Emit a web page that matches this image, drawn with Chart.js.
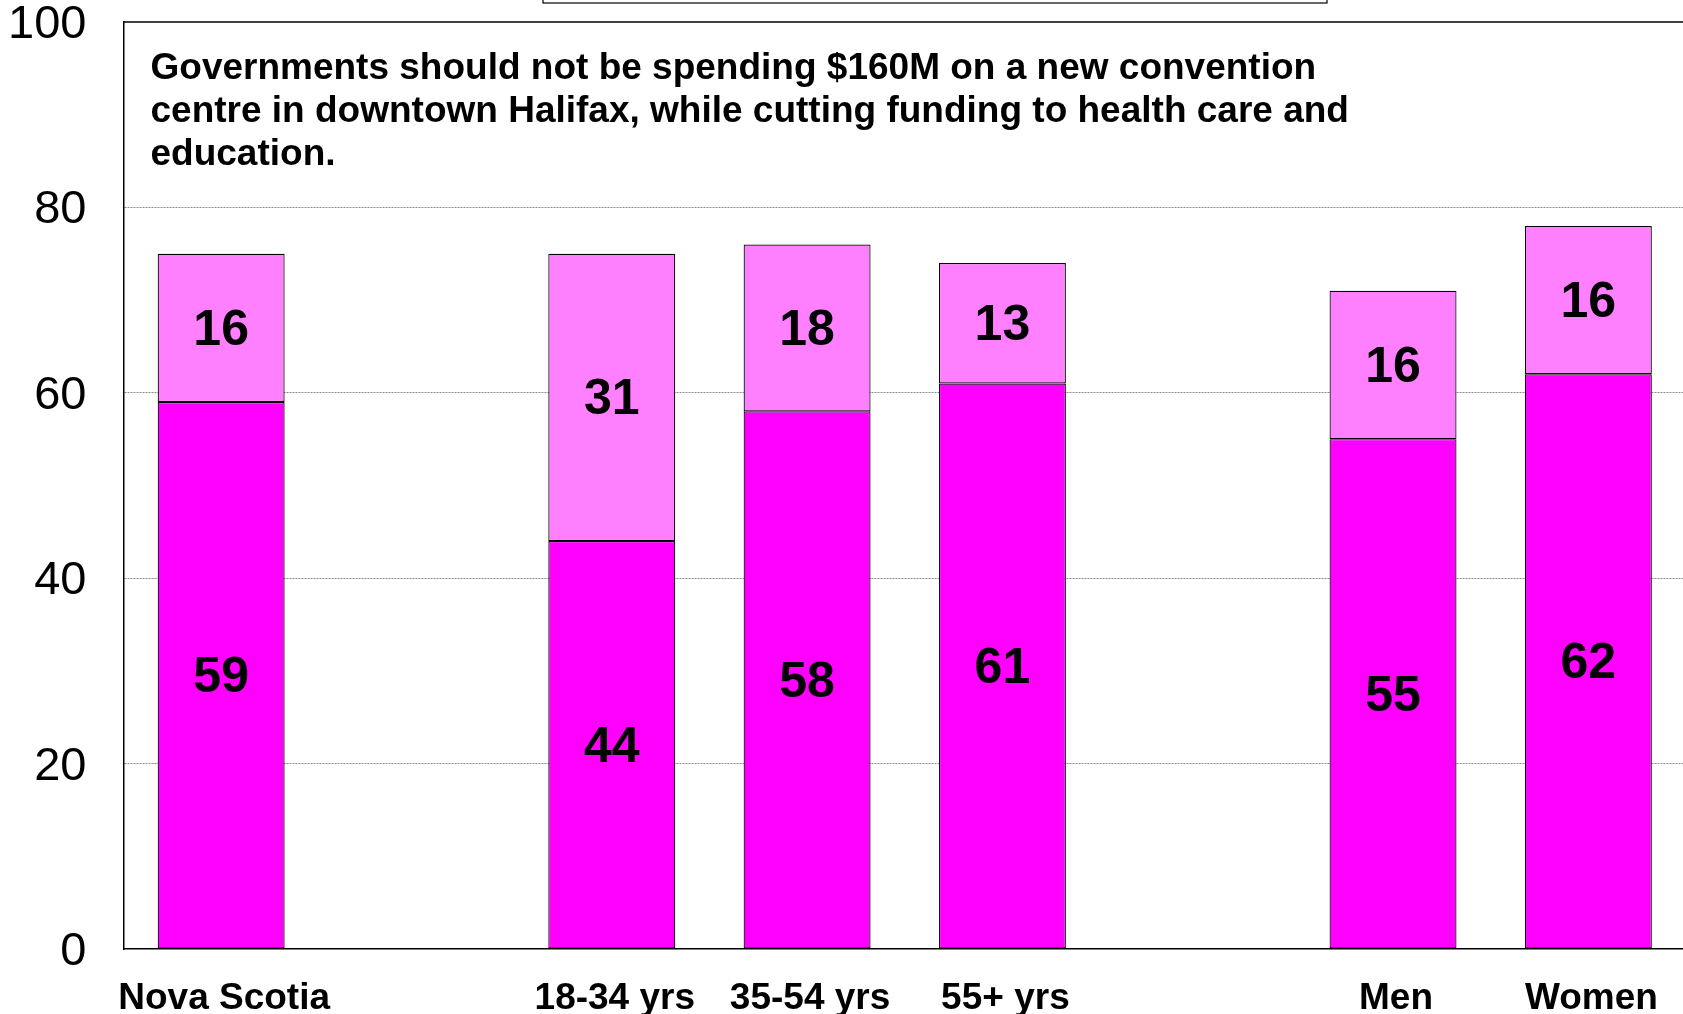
<!DOCTYPE html>
<html>
<head>
<meta charset="utf-8">
<script src="https://cdn.jsdelivr.net/npm/chart.js@4/dist/chart.umd.min.js"></script>
<style>
  html, body { margin: 0; padding: 0; background: #fff; overflow: hidden; }
  canvas { display: block; }
</style>
</head>
<body>
<canvas id="chart" width="1686" height="1014"></canvas>
<script>
// groups are separated by empty slots on the category axis
const categories = ['Nova Scotia', '', '18-34 yrs', '35-54 yrs', '55+ yrs', '', 'Men', 'Women']
const stronglyAgree = [59, null, 44, 58, 61, null, 55, 62]
const somewhatAgree = [16, null, 31, 18, 13, null, 16, 16]
const yTicks = [0, 20, 40, 60, 80, 100]

const statement = [
  'Governments should not be spending $160M on a new convention',
  'centre in downtown Halifax, while cutting funding to health care and',
  'education.',
]

const FONT = 'Arial, "Liberation Sans", Helvetica, sans-serif'

const overlay = {
  id: 'overlay',
  afterDatasetsDraw(chart) {
    const { ctx, chartArea } = chart
    ctx.save()

    // segment values, centred in each stacked piece
    ctx.fillStyle = '#000'
    ctx.font = `bold 50px ${FONT}`
    ctx.textAlign = 'center'
    ctx.textBaseline = 'middle'
    chart.data.datasets.forEach((ds, i) => {
      chart.getDatasetMeta(i).data.forEach((bar, j) => {
        const v = ds.data[j]
        if (v == null) return
        ctx.fillText(String(v), bar.x, (bar.y + bar.base) / 2 + 3)
      })
    })

    // top frame line of the plot
    ctx.strokeStyle = '#000'
    ctx.lineWidth = 1.5
    ctx.beginPath()
    ctx.moveTo(chartArea.left, chartArea.top)
    ctx.lineTo(chartArea.right, chartArea.top)
    ctx.stroke()

    // empty box above the plot
    ctx.lineWidth = 1.2
    ctx.strokeRect(543, -10, 784, 13)

    // statement text
    ctx.font = `bold 37px ${FONT}`
    ctx.textAlign = 'left'
    ctx.textBaseline = 'middle'
    statement.forEach((line, k) => {
      ctx.fillText(line, chartArea.left + 27, 69 + k * 43)
    })
    ctx.restore()
  },
}

new Chart(document.getElementById('chart'), {
  type: 'bar',
  data: {
    labels: categories,
    datasets: [
      {
        label: 'Strongly agree',
        data: stronglyAgree,
        backgroundColor: '#FF00FF',
        borderColor: '#000',
        borderWidth: 1.2,
        borderSkipped: false,
      },
      {
        label: 'Somewhat agree',
        data: somewhatAgree,
        backgroundColor: '#FF80FF',
        borderColor: '#000',
        borderWidth: 1.2,
        borderSkipped: false,
      },
    ],
  },
  options: {
    responsive: false,
    animation: false,
    events: [],
    layout: { padding: { top: 22, left: 0, right: 0, bottom: 0 } },
    datasets: { bar: { barPercentage: 0.65, categoryPercentage: 1 } },
    plugins: { legend: { display: false }, tooltip: { enabled: false } },
    scales: {
      x: {
        stacked: true,
        grid: { display: false, drawTicks: false },
        border: { display: true, color: '#000', width: 1.5 },
        ticks: {
          color: '#000',
          padding: 28,
          labelOffset: 3,
          maxRotation: 0,
          autoSkip: false,
          font: { family: FONT, size: 37, weight: 'bold' },
        },
        afterFit(scale) {
          scale.height = 65
          scale.paddingLeft = 0
          scale.paddingRight = 0
        },
      },
      y: {
        stacked: true,
        min: 0,
        max: 100,
        afterBuildTicks(scale) { scale.ticks = yTicks.map((value) => ({ value })) },
        grid: {
          drawTicks: false,
          lineWidth: 1,
          color: (c) => (c.tick && (c.tick.value === 0 || c.tick.value === 100) ? 'rgba(0,0,0,0)' : '#8c8c8c'),
        },
        border: { display: true, color: '#000', width: 1.5, dash: [2, 1] },
        ticks: {
          color: '#000',
          padding: 37,
          labelOffset: 3,
          font: { family: FONT, size: 47 },
        },
        afterFit(scale) {
          scale.width = 123.5
          scale.paddingTop = 0
          scale.paddingBottom = 0
        },
      },
    },
  },
  plugins: [overlay],
})
</script>
</body>
</html>
